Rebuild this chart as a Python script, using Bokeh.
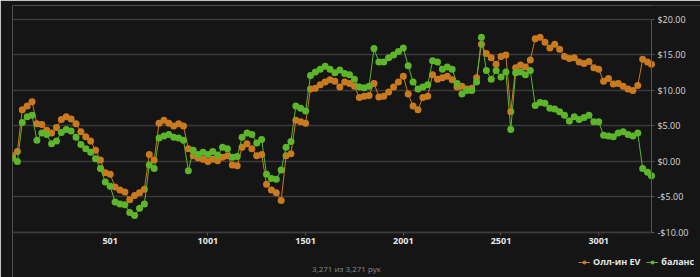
from bokeh.plotting import figure
from bokeh.models import (FixedTicker, CustomJSTickFormatter, Legend, LegendItem,
                          Label, ColumnDataSource, BoxAnnotation)
from bokeh.embed import file_html
from bokeh.resources import INLINE

# hand number of each sample
hands = list(range(1, 3252, 25)) + [3271]

allin_ev = [0.8, 1.4, 7.3, 7.8, 8.4, 5.3, 5.2, 4.4, 4.0, 4.8,
            5.9, 6.3, 6.0, 5.3, 4.2, 3.5, 2.9, 1.6, 0.2, -1.6,
            -1.8, -3.6, -4.0, -4.3, -5.4, -4.8, -4.4, -3.9, 1.0, 0.2,
            5.4, 5.8, 5.4, 5.0, 5.3, 5.0, 1.8, 0.8, 0.5, 0.3,
            0.0, 0.3, 0.1, 0.6, 0.8, -0.5, -0.6, 2.0, 2.5, 1.8,
            0.8, 1.0, -3.2, -4.0, -4.4, -5.5, 0.8, 1.1, 5.8, 5.6,
            5.4, 10.2, 10.3, 10.8, 11.2, 11.5, 11.3, 10.5, 11.2, 11.0,
            10.6, 9.0, 9.2, 9.3, 11.0, 9.1, 9.2, 9.8, 10.5, 11.2,
            12.0, 9.5, 7.8, 7.3, 9.0, 9.2, 12.2, 11.6, 11.8, 12.0,
            11.5, 10.5, 10.6, 10.2, 10.3, 11.8, 16.5, 15.2, 14.6, 13.7,
            14.8, 15.0, 7.0, 13.2, 13.6, 13.3, 14.3, 17.3, 17.5, 16.8,
            16.0, 16.5, 15.8, 14.8, 14.5, 14.6, 14.0, 13.8, 14.1, 13.2,
            13.0, 11.3, 11.7, 10.9, 11.0, 10.6, 10.2, 10.0, 10.7, 14.4,
            14.0, 13.7]

balance = [0.5, 0.0, 5.5, 6.3, 6.5, 3.0, 4.0, 3.8, 2.5, 2.9,
           4.1, 4.5, 4.3, 3.4, 2.4, 1.8, 1.3, 0.4, -1.0, -2.9,
           -3.5, -5.7, -6.0, -6.1, -7.2, -7.6, -6.6, -6.0, -0.5, -1.0,
           3.3, 3.6, 3.8, 3.4, 3.3, 3.0, -1.3, 1.6, 1.0, 1.3,
           1.0, 1.4, 0.9, 2.0, 1.8, 0.6, 0.7, 3.4, 4.0, 3.8,
           2.6, 3.1, -1.8, -2.4, -2.5, -1.2, 2.0, 2.8, 7.8, 7.5,
           7.1, 12.1, 12.6, 13.0, 13.4, 13.0, 12.5, 12.9, 12.4, 12.2,
           11.6, 10.5, 10.4, 10.6, 15.9, 14.0, 14.0, 14.6, 15.0, 15.5,
           16.0, 13.5, 11.2, 10.2, 10.5, 10.8, 14.2, 14.0, 13.0, 13.3,
           13.0, 11.0, 9.5, 10.0, 10.0, 11.2, 17.5, 12.8, 11.6, 12.8,
           11.9, 12.6, 4.5, 12.5, 12.6, 12.2, 12.8, 7.9, 8.3, 8.2,
           7.5, 7.4, 7.0, 6.5, 5.7, 6.3, 5.9, 6.2, 6.5, 5.6,
           5.6, 3.7, 3.6, 3.5, 4.0, 4.2, 3.8, 3.6, 4.0, -1.0,
           -1.5, -2.0]

x_ticks = [501, 1001, 1501, 2001, 2501, 3001]
y_ticks = [-10, -5, 0, 5, 10, 15, 20]
series_names = ["Олл-ин EV", "баланс"]
footer_text = "3,271 из 3,271 рук"

ORANGE = "#c97a1f"
GREEN = "#5db52a"
BG = "#151515"
GRID = "#3a3a3a"

HAND_MIN, HAND_MAX = 1, 3271
Y_MIN, Y_MAX = -10, 20

src = ColumnDataSource(dict(x=hands, ev=allin_ev, bal=balance))

# the frame fills the canvas; both axes are pinned to the data extent
p = figure(width=700, height=277, x_range=(HAND_MIN, 3522), y_range=(-16.34, 21.97),
           output_backend="svg", toolbar_location=None, y_axis_location="right",
           min_border_left=12, min_border_right=0, min_border_top=5,
           min_border_bottom=0)
p.background_fill_color = BG
p.border_fill_color = BG
p.outline_line_color = None

p.xgrid.visible = False
p.ygrid.grid_line_color = GRID
p.ygrid.grid_line_width = 1.5
p.ygrid.ticker = FixedTicker(ticks=y_ticks)

# mask the grid to the right of the plotting area
p.add_layout(BoxAnnotation(left=HAND_MAX, fill_color=BG, fill_alpha=1,
                           line_color=None, level="underlay"))

xa = p.xaxis[0]
xa.fixed_location = Y_MIN
xa.bounds = (HAND_MIN, HAND_MAX)
xa.ticker = FixedTicker(ticks=x_ticks)
xa.axis_line_color = GRID
xa.axis_line_width = 1.5
xa.major_tick_line_color = "#555555"
xa.major_tick_out = 3
xa.major_tick_in = 0
xa.minor_tick_line_color = None
xa.major_label_text_color = "#e6e6e6"
xa.major_label_text_font = "Open Sans"
xa.major_label_text_font_size = "9px"
xa.major_label_text_font_style = "bold"
xa.major_label_standoff = 3

ya = p.yaxis[0]
ya.fixed_location = HAND_MAX
ya.bounds = (Y_MIN, Y_MAX)
ya.ticker = FixedTicker(ticks=y_ticks)
ya.formatter = CustomJSTickFormatter(code="return (tick < 0 ? '-' : '') + '$' + Math.abs(tick).toFixed(2);")
ya.axis_line_color = "#555555"
ya.major_tick_line_color = "#555555"
ya.major_tick_out = 3
ya.major_tick_in = 0
ya.minor_tick_line_color = None
ya.major_label_text_color = "#d8d8d8"
ya.major_label_text_font = "Open Sans"
ya.major_label_text_font_size = "9px"
ya.major_label_standoff = 3

l1 = p.line("x", "ev", source=src, line_color=ORANGE, line_width=1)
s1 = p.scatter("x", "ev", source=src, size=7, fill_color=ORANGE, line_color=None)
l2 = p.line("x", "bal", source=src, line_color=GREEN, line_width=1)
s2 = p.scatter("x", "bal", source=src, size=7, fill_color=GREEN, line_color=None)

legend = Legend(items=[LegendItem(label=series_names[0], renderers=[l1, s1]),
                       LegendItem(label=series_names[1], renderers=[l2, s2])],
                orientation="horizontal", location=(566, 9),
                background_fill_alpha=0, border_line_color=None,
                label_text_color="#e6e6e6", label_text_font="Open Sans",
                label_text_font_size="9px", label_text_font_style="bold",
                glyph_width=12, glyph_height=10, label_standoff=3, spacing=6,
                padding=2, margin=0, label_height=10)
p.add_layout(legend, "center")

footer = Label(x=334, y=9, x_units="screen", y_units="screen", text=footer_text,
               text_color="#8a8a8a", text_font="Open Sans", text_font_size="8px",
               text_align="center", text_baseline="middle")
p.add_layout(footer)

open("out.html", "w").write(file_html(p, INLINE))
